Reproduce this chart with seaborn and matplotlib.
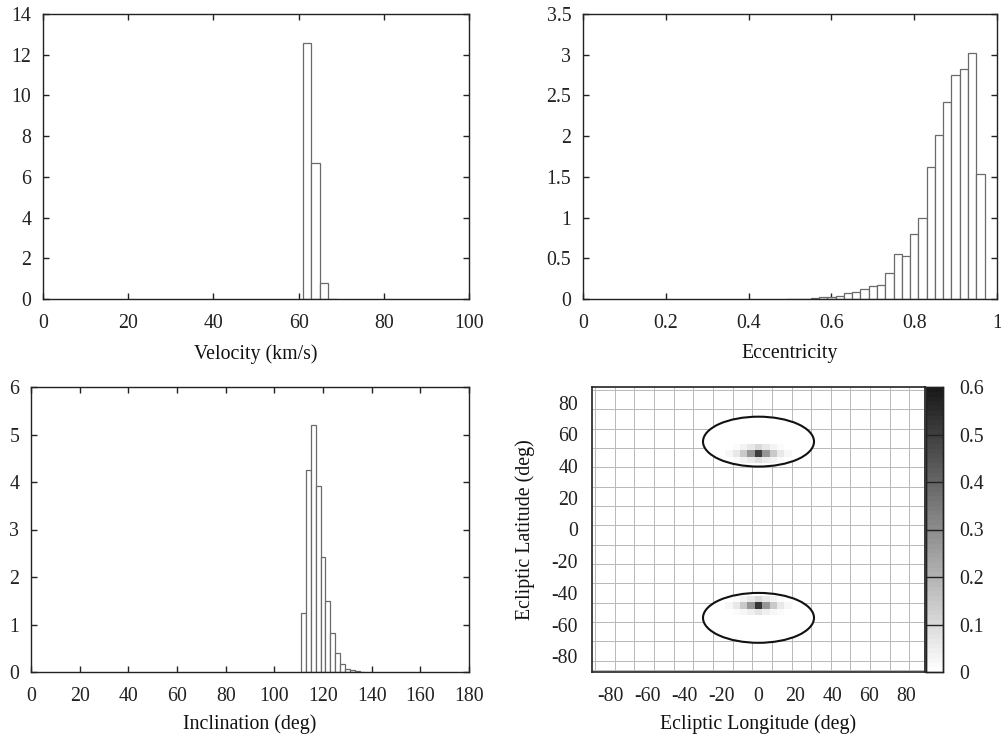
import numpy as np
import pandas as pd
import matplotlib
matplotlib.use("Agg")
import matplotlib.pyplot as plt
from matplotlib.colors import ListedColormap
from matplotlib.patches import Ellipse
from matplotlib.ticker import FuncFormatter, MultipleLocator
import seaborn as sns

# ---------------- data ----------------
velocity_centers = [62, 64, 66, 68]
velocity_density = [12.59, 6.66, 0.77, 0.02]

ecc_centers = [0.50, 0.52, 0.54, 0.56, 0.58, 0.60, 0.62, 0.64, 0.66, 0.68,
               0.70, 0.72, 0.74, 0.76, 0.78, 0.80, 0.82, 0.84, 0.86, 0.88,
               0.90, 0.92, 0.94, 0.96]
ecc_density = [0.002, 0.003, 0.005, 0.015, 0.02, 0.03, 0.04, 0.07, 0.09, 0.12,
               0.16, 0.17, 0.32, 0.55, 0.53, 0.80, 0.99, 1.62, 2.02, 2.42,
               2.75, 2.83, 3.02, 1.54]

incl_centers = [112, 114, 116, 118, 120, 122, 124, 126, 128, 130, 132, 134, 136]
incl_density = [1.25, 4.25, 5.21, 3.91, 2.42, 1.49, 0.82, 0.39, 0.16, 0.07,
                0.035, 0.015, 0.005]

# radiant density: longitude columns and latitude rows of the two spots
spot_lon = [-16, -12, -8, -4, 0, 4, 8, 12, 16]
north_lat = [52, 48, 44]
north_vals = [[0.00, 0.01, 0.03, 0.06, 0.10, 0.06, 0.03, 0.01, 0.00],
              [0.02, 0.06, 0.14, 0.27, 0.50, 0.27, 0.14, 0.06, 0.02],
              [0.00, 0.01, 0.03, 0.05, 0.08, 0.05, 0.03, 0.01, 0.00]]
south_lat = [-44, -48, -52]
south_vals = [[0.00, 0.01, 0.03, 0.06, 0.10, 0.06, 0.03, 0.01, 0.00],
              [0.02, 0.06, 0.14, 0.27, 0.52, 0.27, 0.14, 0.06, 0.02],
              [0.00, 0.01, 0.02, 0.04, 0.07, 0.04, 0.02, 0.01, 0.00]]

# error ellipses around the radiants (centre latitude, full width, full height)
ellipse_lat = [55.5, -55.8]
ellipse_width = 60
ellipse_height = 31.5

# ---------------- style ----------------
FS = 14.3
sns.set_style("ticks")
plt.rcParams["font.family"] = ["Liberation Serif", "DejaVu Serif"]
plt.rcParams["font.size"] = FS
plt.rcParams["axes.linewidth"] = 1.0
plt.rcParams["axes.edgecolor"] = "#222222"
plt.rcParams["xtick.color"] = "#222222"
plt.rcParams["ytick.color"] = "#222222"
plt.rcParams["text.color"] = "#111111"
plt.rcParams["axes.labelcolor"] = "#111111"

W, H = 1001, 737
fig = plt.figure(figsize=(W / 100, H / 100), dpi=100)
fig.patch.set_facecolor("white")


def axes_px(left, top, right, bottom):
    return fig.add_axes([left / W, 1 - bottom / H, (right - left) / W, (bottom - top) / H])


fmt = FuncFormatter(lambda v, p: f"{v:g}")


def style_hist_axes(ax):
    ax.tick_params(direction="in", length=4.5, width=1.0, top=True, right=True,
                   labelsize=FS)
    ax.tick_params(axis="x", pad=10.5)
    ax.tick_params(axis="y", pad=8.5)
    ax.xaxis.set_major_formatter(fmt)
    ax.yaxis.set_major_formatter(fmt)
    for s in ax.spines.values():
        s.set_visible(True)


def draw_hist(ax, centers, heights, width):
    c = np.asarray(centers, dtype=float)
    edges = list(np.append(c - width / 2, c[-1] + width / 2))
    df = pd.DataFrame({"value": c, "density": heights})
    sns.histplot(data=df, x="value", weights="density", bins=edges, stat="count",
                 element="bars", fill=True, color="white", alpha=1.0,
                 edgecolor="#6a6a6a", linewidth=0.9, ax=ax)
    ax.set_ylabel("")


# Velocity
ax1 = axes_px(43, 14, 469, 299)
draw_hist(ax1, velocity_centers, velocity_density, 2)
ax1.set_xlim(0, 100)
ax1.set_ylim(0, 14)
ax1.xaxis.set_major_locator(MultipleLocator(20))
ax1.yaxis.set_major_locator(MultipleLocator(2))
style_hist_axes(ax1)
ax1.set_xlabel("Velocity (km/s)", fontsize=FS, labelpad=8.5)

# Eccentricity
ax2 = axes_px(583, 14, 997, 299)
draw_hist(ax2, ecc_centers, ecc_density, 0.02)
ax2.set_xlim(0, 1)
ax2.set_ylim(0, 3.5)
ax2.xaxis.set_major_locator(MultipleLocator(0.2))
ax2.yaxis.set_major_locator(MultipleLocator(0.5))
style_hist_axes(ax2)
ax2.set_xlabel("Eccentricity", fontsize=FS, labelpad=8.5)

# Inclination
ax3 = axes_px(31, 387, 469, 672)
draw_hist(ax3, incl_centers, incl_density, 2)
ax3.set_xlim(0, 180)
ax3.set_ylim(0, 6)
ax3.xaxis.set_major_locator(MultipleLocator(20))
ax3.yaxis.set_major_locator(MultipleLocator(1))
style_hist_axes(ax3)
ax3.set_xlabel("Inclination (deg)", fontsize=FS, labelpad=6)

# Radiant map
ax4 = axes_px(592, 387, 925, 672)
cax = axes_px(926, 387, 943, 672)

lon_pts, lat_pts, w_pts = [], [], []
for lats, vals in ((north_lat, north_vals), (south_lat, south_vals)):
    for la, row in zip(lats, vals):
        for lo, v in zip(spot_lon, row):
            if v > 0:
                lon_pts.append(lo)
                lat_pts.append(la)
                w_pts.append(v)
radiants = pd.DataFrame({"lon": lon_pts, "lat": lat_pts, "w": w_pts})

grays = np.linspace(1.0, 0.10, 60)
cmap = ListedColormap(np.column_stack([grays, grays, grays]))

lon_edges = list(np.arange(-90, 90.1, 4))
lat_edges = list(np.arange(-90, 90.1, 4))

# background mesh lines
for gx in list(np.linspace(-88.4, 81.6, 17)) + [89.4]:
    ax4.axvline(gx, color="#b8b8b8", lw=0.7, zorder=0.5)
for gy in list(np.linspace(88.0, -82.8, 15)) + [-88.6]:
    ax4.axhline(gy, color="#b8b8b8", lw=0.7, zorder=0.5)

for la in ellipse_lat:
    ax4.add_patch(Ellipse((0, la), ellipse_width, ellipse_height,
                          facecolor="white", edgecolor="none", zorder=1))

sns.histplot(data=radiants, x="lon", y="lat", weights="w",
             bins=[lon_edges, lat_edges], cmap=cmap, vmin=0, vmax=0.6,
             cbar=True, cbar_ax=cax, ax=ax4, zorder=2)

for la in ellipse_lat:
    ax4.add_patch(Ellipse((0, la), ellipse_width, ellipse_height,
                          facecolor="none", edgecolor="#111111", lw=1.5, zorder=3))

ax4.set_xlim(-90, 90)
ax4.set_ylim(-90, 90)
ax4.set_xticks(np.arange(-80, 81, 20))
ax4.set_yticks(np.arange(-80, 81, 20))
ax4.xaxis.set_major_formatter(fmt)
ax4.yaxis.set_major_formatter(fmt)
ax4.tick_params(length=0, labelsize=FS)
ax4.tick_params(axis="x", pad=10.5)
ax4.tick_params(axis="y", pad=10)
for s in ax4.spines.values():
    s.set_visible(True)
    s.set_linewidth(1.2)
ax4.set_xlabel("Ecliptic Longitude (deg)", fontsize=FS, labelpad=6)
ax4.set_ylabel("Ecliptic Latitude (deg)", fontsize=FS, labelpad=12)

cax.set_ylim(0, 0.6)
cax.yaxis.set_ticks(np.arange(0, 0.61, 0.1))
cax.yaxis.set_major_formatter(fmt)
cax.tick_params(length=0, labelsize=FS, pad=12)
for t in np.arange(0.1, 0.55, 0.1):
    cax.axhline(t, color="#222222", lw=1.0)
for s in cax.spines.values():
    s.set_visible(True)
    s.set_linewidth(1.0)

fig.savefig("out.png", dpi=100, facecolor="white")
